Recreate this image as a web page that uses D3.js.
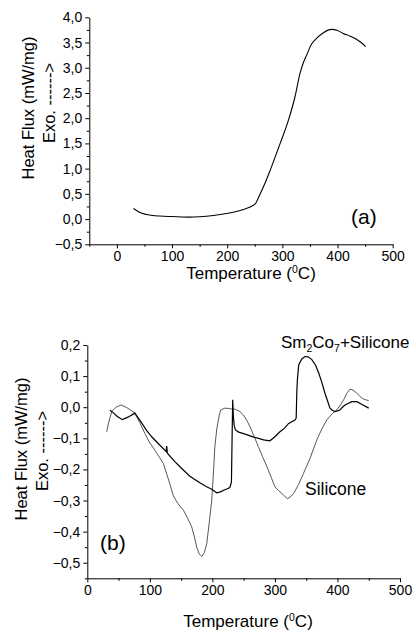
<!DOCTYPE html>
<html><head><meta charset="utf-8">
<script src="https://cdn.jsdelivr.net/npm/d3@7"></script>
<style>
html,body{margin:0;padding:0;background:#fff;}
svg{display:block;}
text{font-family:"Liberation Sans",Arial,sans-serif;fill:#000;}
</style></head>
<body><svg id="c" width="416" height="637"></svg>
<script>
// ---- Panel (a) data ----
const aTemp = [30, 33, 40, 54, 65, 78, 100, 132, 150, 175, 199, 220, 235, 245, 252, 256, 262, 270, 278, 296, 311, 323, 332, 338, 344, 352, 362, 375, 389, 400, 410, 422, 435, 445, 451];
const aFlux = [0.21, 0.19, 0.14, 0.09, 0.07, 0.06, 0.05, 0.038, 0.045, 0.07, 0.11, 0.16, 0.21, 0.26, 0.32, 0.41, 0.55, 0.75, 0.97, 1.50, 1.96, 2.43, 2.89, 3.10, 3.25, 3.45, 3.58, 3.70, 3.76, 3.74, 3.68, 3.63, 3.56, 3.48, 3.42];
const aXTicks = [0, 100, 200, 300, 400, 500];
const aYTicks = [-0.5, 0, 0.5, 1, 1.5, 2, 2.5, 3, 3.5, 4];

// ---- Panel (b) data ----
const bTempMix = [36, 40, 48, 56, 65, 76, 85, 95, 103, 115, 126, 127, 128, 140, 151, 164, 172, 180, 190, 199, 207, 213, 218, 224, 228, 230.5, 231.5, 232.5, 233.5, 235, 237, 242, 250, 266, 282, 292, 300, 308, 315, 322, 332, 334, 335, 336, 338, 343, 348, 353, 359, 365, 370, 375, 380, 385, 388, 392, 396, 400, 404, 408, 412, 417, 423, 431, 440, 450];
const bFluxMix = [-0.010, -0.015, -0.030, -0.040, -0.032, -0.019, -0.045, -0.075, -0.095, -0.120, -0.142, -0.125, -0.148, -0.175, -0.197, -0.222, -0.232, -0.243, -0.255, -0.264, -0.275, -0.272, -0.267, -0.262, -0.258, -0.240, -0.100, 0.024, -0.030, -0.060, -0.073, -0.080, -0.085, -0.096, -0.105, -0.108, -0.095, -0.079, -0.068, -0.052, -0.041, -0.035, 0.050, 0.090, 0.136, 0.155, 0.163, 0.162, 0.153, 0.135, 0.110, 0.080, 0.045, 0.015, -0.003, -0.010, -0.014, -0.012, -0.009, 0.000, 0.007, 0.012, 0.018, 0.018, 0.008, -0.003];
const bTempSil = [31, 34, 39, 46, 54, 62, 70, 76, 84, 92, 100, 108, 115, 121.6, 127, 131, 137.6, 145, 153.6, 160, 167, 171, 175, 179, 183, 187, 191, 195, 199, 202, 204, 207, 209.6, 211, 213.4, 220, 226, 231, 235, 239, 244, 249.6, 255, 260, 267, 273.6, 280, 287, 294, 300, 306, 311, 316, 320, 325, 330, 338, 345.6, 356, 367, 375, 383, 391, 399, 405, 410, 415, 420, 425, 431, 436, 440, 445, 450];
const bFluxSil = [-0.079, -0.050, -0.014, 0.000, 0.007, 0.000, -0.010, -0.019, -0.050, -0.084, -0.115, -0.138, -0.160, -0.181, -0.215, -0.240, -0.285, -0.310, -0.331, -0.355, -0.385, -0.415, -0.450, -0.472, -0.480, -0.468, -0.439, -0.370, -0.299, -0.200, -0.127, -0.070, -0.041, -0.025, -0.009, -0.003, -0.004, -0.006, -0.006, -0.009, -0.014, -0.025, -0.042, -0.062, -0.095, -0.127, -0.158, -0.190, -0.225, -0.256, -0.268, -0.277, -0.287, -0.294, -0.288, -0.277, -0.248, -0.213, -0.165, -0.105, -0.070, -0.041, -0.022, -0.009, 0.008, 0.024, 0.045, 0.058, 0.055, 0.045, 0.035, 0.028, 0.024, 0.021];
const bXTicks = [0, 100, 200, 300, 400, 500];
const bYTicks = [-0.5, -0.4, -0.3, -0.2, -0.1, 0, 0.1, 0.2];

const svg = d3.select("#c");
svg.append("rect").attr("width", 416).attr("height", 637).attr("fill", "#fff");
const comma = d => d3.format(".1f")(d).replace(".", ",");

function drawAxes(g, x, y, xTicks, xMinor, yTicks, yMinor) {
  g.append("g").attr("transform", `translate(0,${y.range()[0]})`)
    .call(d3.axisBottom(x).tickValues(xTicks).tickSize(4).tickSizeOuter(0).tickPadding(3).tickFormat(d3.format("d")));
  g.append("g").attr("transform", `translate(0,${y.range()[0]})`)
    .call(d3.axisBottom(x).tickValues(xMinor).tickSize(2.5).tickSizeOuter(0).tickFormat(""))
    .select(".domain").remove();
  g.append("g").attr("transform", `translate(${x.range()[0]},0)`)
    .call(d3.axisLeft(y).tickValues(yTicks).tickSize(4).tickSizeOuter(0).tickPadding(3).tickFormat(comma));
  g.append("g").attr("transform", `translate(${x.range()[0]},0)`)
    .call(d3.axisLeft(y).tickValues(yMinor).tickSize(2.5).tickSizeOuter(0).tickFormat(""))
    .select(".domain").remove();
  g.selectAll(".tick text").style("font-family", '"Liberation Sans",Arial,sans-serif').style("font-size", "14px").attr("fill", "#000");
  g.selectAll(".domain, .tick line").attr("stroke", "#000").attr("stroke-width", 1);
}

function yLabel(g, cx, cy, cx2, cy2) {
  g.append("text").attr("transform", `translate(${cx},${cy}) rotate(-90)`)
    .attr("text-anchor", "middle").style("font-size", "16.5px").text("Heat Flux (mW/mg)");
  g.append("text").attr("transform", `translate(${cx2},${cy2}) rotate(-90)`)
    .attr("text-anchor", "middle").style("font-size", "16.5px").text("Exo. ------>");
}
function xLabel(g, cx, by) {
  const t = g.append("text").attr("x", cx).attr("y", by).attr("text-anchor", "middle").style("font-size", "17px");
  t.append("tspan").text("Temperature (");
  t.append("tspan").attr("dy", -6).style("font-size", "10.5px").text("0");
  t.append("tspan").attr("dy", 6).text("C)");
}

// ---- Panel (a) ----
const ga = svg.append("g");
const xa = d3.scaleLinear().domain([-50, 500]).range([89.3, 392.7]);
const ya = d3.scaleLinear().domain([-0.5, 4.0]).range([244.3, 17.3]);
drawAxes(ga, xa, ya, aXTicks, d3.range(-50, 500, 100), aYTicks, d3.range(-0.25, 4.0, 0.5));
ga.append("path").datum(aTemp.map((t, i) => [t, aFlux[i]]))
  .attr("fill", "none").attr("stroke", "#000").attr("stroke-width", 1.1)
  .attr("d", d3.line().x(d => xa(d[0])).y(d => ya(d[1])).curve(d3.curveMonotoneX));
yLabel(ga, 34, 108, 55, 103);
xLabel(ga, 251, 279);
ga.append("text").attr("x", 351).attr("y", 224).style("font-size", "21px").text("(a)");

// ---- Panel (b) ----
const gb = svg.append("g");
const xb = d3.scaleLinear().domain([0, 500]).range([87.3, 400]);
const yb = d3.scaleLinear().domain([-0.55, 0.2]).range([578.3, 345]);
drawAxes(gb, xb, yb, bXTicks, d3.range(50, 500, 100), bYTicks, d3.range(-0.55, 0.2, 0.1));
const lineB = d3.line().x(d => xb(d[0])).y(d => yb(d[1]));
gb.append("path").datum(bTempSil.map((t, i) => [t, bFluxSil[i]]))
  .attr("fill", "none").attr("stroke", "#444").attr("stroke-width", 0.9).attr("d", lineB);
gb.append("path").datum(bTempMix.map((t, i) => [t, bFluxMix[i]]))
  .attr("fill", "none").attr("stroke", "#000").attr("stroke-width", 1.2).attr("d", lineB);
yLabel(gb, 27, 449, 48, 451);
xLabel(gb, 248, 627);
const lg = gb.append("text").attr("x", 281).attr("y", 348).style("font-size", "17px");
lg.append("tspan").text("Sm");
lg.append("tspan").attr("dy", 4).style("font-size", "10.5px").text("2");
lg.append("tspan").attr("dy", -4).text("Co");
lg.append("tspan").attr("dy", 4).style("font-size", "10.5px").text("7");
lg.append("tspan").attr("dy", -4).text("+Silicone");
gb.append("text").attr("x", 305).attr("y", 495).style("font-size", "17.5px").text("Silicone");
gb.append("text").attr("x", 100).attr("y", 550).style("font-size", "21px").text("(b)");
</script></body></html>
